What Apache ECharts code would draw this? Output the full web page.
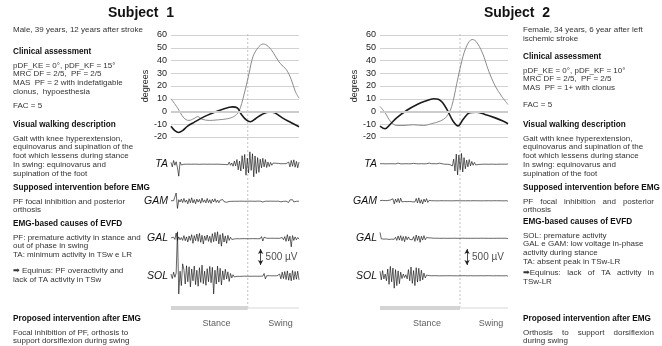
<!DOCTYPE html>
<html>
<head>
<meta charset="utf-8">
<script src="https://cdn.jsdelivr.net/npm/echarts@6/dist/echarts.min.js"></script>
<style>
  html, body { margin: 0; padding: 0; background: #fff; }
  #c { width: 662px; height: 346px; }
</style>
</head>
<body>
<div id="c"></div>
<script>
// ---- Joint angles over the gait cycle (% of cycle, degrees) ----
// Subject 1
const kneePct1 = [0, 5, 10, 14, 18, 21, 24, 30, 37, 44, 49, 53, 57, 61, 64, 68, 72, 76, 80, 85, 90, 94, 97, 100];
const kneeDeg1 = [10, 3, -5, -7, -5.5, -4, -6, -7, -6.5, -5.7, -4, 0, 13, 30, 43, 50, 53, 51, 46, 38, 33, 25, 16, 10.5];
const anklePct1 = [0, 3, 6, 9, 13, 18, 26, 33, 41, 48, 52, 55, 59, 62, 66, 71, 77, 81, 87, 94, 100];
const ankleDeg1 = [-11.5, -15, -16.5, -15, -11.5, -8.5, -4, -1, 2, 3.6, 2.6, -2.3, -6.8, -8, -5.7, -2.3, -0.3, -1, -5, -8.8, -12];
// Subject 2
const kneePct2 = [0, 4, 8, 13, 18, 26, 34, 40, 47, 52, 56, 60, 64, 68, 72, 75, 80, 85, 90, 95, 100];
const kneeDeg2 = [4, -1, -7.5, -11, -11, -10.4, -11, -9.6, -7.5, -4, 4, 22, 40, 52, 56.5, 55, 46, 31.5, 20, 12, 5.5];
const anklePct2 = [0, 4, 8, 13, 21, 29, 35, 42, 46, 49, 53, 57, 61, 65, 70, 75, 82, 90, 96, 100];
const ankleDeg2 = [-11.4, -13.5, -10, -5, 1, 5.5, 8, 10, 9.4, 6.8, 0.3, -7.5, -11.4, -6, -1, -0.5, -2.3, -5, -7.5, -9.6];

// Toe-off (end of stance), % of gait cycle
const toeOff1 = 60;
const toeOff2 = 62.5;

// Angle axis ticks
const angleTicks = [-20, -10, 0, 10, 20, 30, 40, 50, 60];

// ---- Surface EMG, 100 evenly spaced samples over the cycle (µV) ----
const muscles = ['TA', 'GAM', 'GAL', 'SOL'];
const emgTA1 = [
  50,-90,110,-40,70,-120,-380,60,-30,20,
  -8,6,-5,9,-6,4,-7,5,-4,8,
  -6,5,-9,4,-5,7,-4,6,-8,5,
  -5,8,-6,4,-7,10,-5,6,-9,7,
  -12,20,-15,35,-25,60,-40,30,-70,90,
  -60,140,-180,90,-220,260,-150,300,-350,180,
  -280,380,-200,320,-400,250,-300,200,-260,150,
  -120,180,-90,140,-110,60,-80,50,-40,30,
  -15,25,-10,20,-12,8,-15,10,-6,12,
  -30,60,-90,110,-70,130,-100,80,-120,60];
const emgGAM1 = [
  10,-15,8,-12,250,-230,40,-30,60,-50,
  80,-40,30,-90,70,-55,100,-60,45,-85,
  60,-35,50,-70,90,-40,35,-60,80,-50,
  40,-75,55,-30,70,-45,30,-55,25,-35,
  45,-20,30,-40,20,-15,25,-10,15,-8,
  6,-8,5,-7,9,-5,6,-8,4,-6,
  7,-5,8,-6,5,-9,6,-4,7,-5,
  25,-30,8,-6,5,-7,6,-5,8,-6,
  5,-8,6,-5,20,-25,15,-10,8,-6,
  30,-45,35,-20,40,-30,15,-10,8,-6];
const emgGAL1 = [
  20,-15,40,-30,170,-60,50,-40,30,-60,
  90,-70,50,-110,80,-60,120,-150,90,-70,
  140,-90,160,-120,100,-170,80,-60,110,-90,
  70,-130,150,-100,190,-80,210,-170,120,-240,
  160,-110,80,-150,100,-60,40,-30,20,-15,
  8,-6,7,-9,5,-6,8,-5,6,-7,
  5,-8,6,-4,9,-6,5,-7,6,-5,
  60,-80,40,-20,10,-8,6,-5,8,-6,
  7,-5,6,-8,5,-6,30,-40,60,-90,
  120,-80,70,-260,90,-60,50,-40,30,-20];
const emgSOL1 = [
  60,-80,120,-40,90,1380,-560,150,-300,380,
  200,-250,320,-180,290,-340,220,-150,310,-270,
  180,-320,260,-200,340,-240,150,-290,230,-180,
  300,-210,270,-560,180,-250,310,-190,240,-280,
  160,-120,210,-90,130,-170,80,-60,40,-30,
  15,-10,8,-12,6,-9,7,-5,8,-6,
  6,-8,5,-7,9,-6,5,-8,6,-5,
  7,-5,80,-90,10,-6,8,-7,5,-9,
  6,-8,7,-5,60,-90,120,-80,140,-110,
  160,-130,90,-150,170,-120,140,-100,150,-120];

const emgTA2 = [
  8,-6,10,-7,5,-9,6,-5,8,-6,
  7,-9,5,-6,25,-20,6,-8,5,-7,
  9,-5,6,-8,7,-6,20,-25,8,-5,
  6,-7,9,-6,5,-8,7,-5,30,-20,
  8,-6,10,-9,6,-7,25,-30,8,-6,
  -8,10,-6,12,-20,40,-60,150,-220,310,
  -340,280,-180,330,-250,200,-150,120,-90,140,
  -60,80,-40,50,-30,25,-15,20,-10,8,
  -6,9,-5,7,-8,6,-5,8,-7,5,
  -9,6,-5,8,-6,7,-5,9,-6,5];
const emgGAM2 = [
  10,-8,20,-15,12,-25,15,-10,30,-20,
  70,-90,60,-40,80,-55,90,-30,20,-15,
  25,-20,30,-15,20,-25,15,-30,80,-60,
  100,-70,40,-90,60,-30,75,-45,20,-15,
  8,-6,7,-9,5,-8,6,-5,9,-7,
  6,-5,8,-7,5,-9,6,-8,7,-5,
  9,-6,5,-8,7,-5,6,-9,8,-6,
  5,-7,9,-6,8,-5,7,-6,5,-8,
  6,-9,7,-5,8,-6,5,-7,9,-5,
  7,-6,8,-5,6,-9,5,-7,8,-6];
const emgGAL2 = [
  190,-10,15,-20,25,-15,20,-30,25,-20,
  30,-25,40,-60,80,-50,90,-70,60,-100,
  70,-40,50,-30,20,-40,60,-90,110,-60,
  80,-120,70,-50,90,-40,30,-25,20,-15,
  15,-10,8,-6,10,-8,6,-5,7,-5,
  8,-6,5,-9,7,-5,6,-8,9,-6,
  5,-7,8,-6,9,-5,7,-8,6,-5,
  7,-9,5,-6,8,-7,6,-5,9,-6,
  8,-5,7,-9,6,-8,5,-6,7,-5,
  6,-8,9,-5,7,-6,8,-7,5,-9];
const emgSOL2 = [
  150,-120,170,-90,60,-150,220,-260,300,-180,
  250,-380,200,-300,160,-240,120,-80,60,-50,
  40,-90,200,-150,280,-230,170,-300,260,-190,
  240,-160,180,-120,90,-60,30,-20,12,-8,
  7,-5,9,-6,8,-7,5,-9,6,-5,
  8,-6,7,-5,9,-8,6,-5,7,-9,
  5,-8,6,-7,9,-5,8,-6,5,-7,
  9,-6,5,-8,7,-5,6,-9,8,-6,
  6,-7,8,-5,9,-6,7,-8,5,-6,
  8,-5,6,-9,7,-6,5,-8,9,-7];

// Calibration bar height (µV) and gait phases
const scaleBarUV = 500;
const phases = ['Stance', 'Swing'];

// ---- Clinical notes ----
const notes1 = [
  { lines: ['Male, 39 years, 12 years after stroke'] },
  { head: 'Clinical assessment', lines: ['pDF_KE = 0°, pDF_KF = 15°', 'MRC DF = 2/5,  PF = 2/5', 'MAS  PF = 2 with indefatigable', 'clonus,  hypoesthesia'] },
  { lines: ['FAC = 5'] },
  { head: 'Visual walking description', lines: ['Gait with knee hyperextension,', 'equinovarus and supination of the', 'foot which lessens during stance', 'In swing: equinovarus and', 'supination of the foot'] },
  { head: 'Supposed intervention before EMG', lines: ['PF focal inhibition and posterior', 'orthosis'] },
  { head: 'EMG-based causes of EVFD', lines: ['PF: premature activity in stance and', 'out of phase in swing', 'TA: minimum activity in TSw e LR'] },
  { lines: ['\u27A1 Equinus: PF overactivity and', 'lack of TA activity in TSw'] },
  { head: 'Proposed intervention after EMG', lines: ['Focal inhibition of PF, orthosis to', 'support dorsiflexion during swing'] }
];
const notes2 = [
  { lines: ['Female, 34 years, 6 year after left', 'ischemic stroke'] },
  { head: 'Clinical assessment', lines: ['pDF_KE = 0°, pDF_KF = 10°', 'MRC DF = 2/5,  PF = 2/5', 'MAS  PF = 1+ with clonus'] },
  { lines: ['FAC = 5'] },
  { head: 'Visual walking description', lines: ['Gait with knee hyperextension,', 'equinovarus and supination of the', 'foot which lessens during stance', 'In swing: equinovarus and', 'supination of the foot'] },
  { head: 'Supposed intervention before EMG', justify: true, lines: ['PF focal inhibition and posterior', 'orthosis'] },
  { head: 'EMG-based causes of EVFD', lines: ['SOL: premature activity', 'GAL e GAM: low voltage in-phase', 'activity during stance', 'TA: absent peak in TSw-LR'] },
  { justify: true, lines: ['\u27A1Equinus: lack of TA activity in', 'TSw-LR'] },
  { head: 'Proposed intervention after EMG', justify: true, lines: ['Orthosis to support dorsiflexion', 'during swing'] }
];

// ---------------------------------------------------------------
const FONT = '"Liberation Sans", Arial, "DejaVu Sans", sans-serif';
const BODY = 8, HEAD = 8.2, LINE = 8.7, HEAD_GAP = 13.5;

const subjects = [
  { name: 'Subject  1', left: 171, titleX: 141, textX: 13, textW: 145,
    noteTops: [30, 52, 106, 125, 188, 224, 271, 319],
    knee: [kneePct1, kneeDeg1], ankle: [anklePct1, ankleDeg1], toeOff: toeOff1,
    emg: [emgTA1, emgGAM1, emgGAL1, emgSOL1], scaleAt: 70, notes: notes1 },
  { name: 'Subject  2', left: 380, titleX: 517, textX: 523, textW: 131,
    noteTops: [30, 57, 105, 125, 188, 222, 273, 319],
    knee: [kneePct2, kneeDeg2], ankle: [anklePct2, ankleDeg2], toeOff: toeOff2,
    emg: [emgTA2, emgGAM2, emgGAL2, emgSOL2], scaleAt: 68, notes: notes2 }
];

const PLOT_W = 128;
const ANGLE_TOP = 35, ANGLE_H = 102;
const EMG_MID = [164, 201, 238.5, 276];
const EMG_H = 32;              // spans 1000 µV
const SCALE_MID = 257;
const PHASE_Y = 308;

const grids = [], xAxes = [], yAxes = [], series = [], graphics = [];

function addGrid(g, x, y) {
  grids.push(g);
  const idx = grids.length - 1;
  xAxes.push(Object.assign({ gridIndex: idx, type: 'value', min: 0, max: 100, show: false }, x || {}));
  yAxes.push(Object.assign({ gridIndex: idx, type: 'value', show: false }, y || {}));
  return idx;
}

const measureCtx = document.createElement('canvas').getContext('2d');
function textEl(x, y, text, font, fill, align) {
  return { type: 'text', x: x, y: y, silent: true,
    style: { text: text, font: font, fill: fill, textAlign: align || 'left', textVerticalAlign: 'middle' } };
}

subjects.forEach(function (s) {
  // title
  graphics.push(textEl(s.titleX, 13, s.name, 'bold 14px ' + FONT, '#111', 'center'));

  // joint angle plot
  const ga = addGrid({ left: s.left, top: ANGLE_TOP, width: PLOT_W, height: ANGLE_H }, null, {
    show: true, min: angleTicks[0], max: angleTicks[angleTicks.length - 1], interval: 10,
    axisLine: { show: false }, axisTick: { show: false },
    axisLabel: { fontSize: 9, color: '#222', margin: 4, fontFamily: FONT },
    splitLine: { lineStyle: { color: '#d2d2d2', width: 1 } },
    name: 'degrees', nameLocation: 'middle', nameGap: 21, nameRotate: 90,
    nameTextStyle: { fontSize: 9, color: '#222', fontFamily: FONT }
  });
  series.push({
    type: 'line', xAxisIndex: ga, yAxisIndex: ga, smooth: 0.35, symbol: 'none',
    data: s.knee[0].map(function (p, i) { return [p, s.knee[1][i]]; }),
    lineStyle: { color: '#8c8c8c', width: 1 }, z: 3,
    markLine: { silent: true, symbol: 'none', label: { show: false },
      data: [{ yAxis: 0 }], lineStyle: { color: '#cdcdcd', width: 2.2, type: 'solid' } }
  });
  series.push({
    type: 'line', xAxisIndex: ga, yAxisIndex: ga, smooth: 0.35, symbol: 'none',
    data: s.ankle[0].map(function (p, i) { return [p, s.ankle[1][i]]; }),
    lineStyle: { color: '#1c1c1c', width: 1.6 }, z: 4
  });

  // toe-off divider running through all panels
  const gf = addGrid({ left: s.left, top: ANGLE_TOP - 1, width: PLOT_W, height: PHASE_Y - ANGLE_TOP + 1 }, null, { min: 0, max: 1 });
  series.push({
    type: 'line', xAxisIndex: gf, yAxisIndex: gf, symbol: 'none', silent: true,
    data: [[s.toeOff, 0], [s.toeOff, 1]],
    lineStyle: { color: '#b5b5b5', width: 0.8, type: [2, 2] }, z: 1
  });

  // EMG traces
  s.emg.forEach(function (sig, m) {
    const ge = addGrid({ left: s.left, top: EMG_MID[m] - EMG_H / 2, width: PLOT_W, height: EMG_H }, null,
      { min: -scaleBarUV, max: scaleBarUV });
    series.push({
      type: 'line', xAxisIndex: ge, yAxisIndex: ge, symbol: 'none', clip: false,
      data: sig.map(function (v, i) { return [i * 100 / (sig.length - 1), v]; }),
      lineStyle: { color: '#000', width: 0.6 }, z: 5
    });
    graphics.push(textEl(s.left - 3, EMG_MID[m], muscles[m], 'italic 10.5px ' + FONT, '#111', 'right'));
  });

  // calibration bar
  const gs = addGrid({ left: s.left, top: SCALE_MID - EMG_H / 2, width: PLOT_W, height: EMG_H }, null,
    { min: -scaleBarUV, max: scaleBarUV });
  series.push({
    type: 'scatter', xAxisIndex: gs, yAxisIndex: gs, symbolSize: 0, silent: true,
    data: [[s.scaleAt, 0]],
    label: { show: true, position: 'right', distance: 5, formatter: scaleBarUV + ' \u00B5V',
      fontSize: 10, color: '#222', fontFamily: FONT },
    markLine: { silent: true, symbol: ['arrow', 'arrow'], symbolSize: [4, 5], label: { show: false },
      lineStyle: { color: '#222', width: 0.8, type: 'solid' },
      data: [[{ coord: [s.scaleAt, -scaleBarUV / 2] }, { coord: [s.scaleAt, scaleBarUV / 2] }]] }
  });

  // gait phase bar
  const gp = addGrid({ left: s.left, top: PHASE_Y - 5, width: PLOT_W, height: 10 }, null, { min: -1, max: 1 });
  series.push({
    type: 'line', xAxisIndex: gp, yAxisIndex: gp, symbol: 'none', silent: true,
    data: [[0, 0], [s.toeOff, 0]], lineStyle: { color: '#d4d4d4', width: 4 }
  });
  series.push({
    type: 'line', xAxisIndex: gp, yAxisIndex: gp, symbol: 'none', silent: true,
    data: [[s.toeOff, 0], [100, 0]], lineStyle: { color: '#e4e4e4', width: 1.5 }
  });
  series.push({
    type: 'scatter', xAxisIndex: gp, yAxisIndex: gp, symbolSize: 0, silent: true,
    data: [[s.toeOff / 2, 0, phases[0]], [(s.toeOff + 100) / 2, 0, phases[1]]],
    label: { show: true, position: 'bottom', distance: 11, offset: [7, 0],
      formatter: function (p) { return p.value[2]; }, fontSize: 9, color: '#333', fontFamily: FONT }
  });

  // clinical notes
  s.notes.forEach(function (blk, b) {
    let y = s.noteTops[b];
    if (blk.head) {
      graphics.push(textEl(s.textX, y, blk.head, 'bold ' + HEAD + 'px ' + FONT, '#111'));
      y += HEAD_GAP;
    }
    blk.lines.forEach(function (ln, li) {
      const font = BODY + 'px ' + FONT;
      if (blk.justify && li < blk.lines.length - 1) {
        measureCtx.font = font;
        const words = ln.split(' ');
        const widths = words.map(function (w) { return measureCtx.measureText(w).width; });
        const total = widths.reduce(function (a, b) { return a + b; }, 0);
        const gap = (s.textW - total) / (words.length - 1);
        let x = s.textX;
        words.forEach(function (w, wi) {
          graphics.push(textEl(x, y, w, font, '#333'));
          x += widths[wi] + gap;
        });
      } else {
        graphics.push(textEl(s.textX, y, ln, font, '#333'));
      }
      y += LINE;
    });
  });
});

const chart = echarts.init(document.getElementById('c'), null, { renderer: 'canvas' });
chart.setOption({
  animation: false,
  backgroundColor: '#fff',
  grid: grids,
  xAxis: xAxes,
  yAxis: yAxes,
  series: series,
  graphic: graphics
});
</script>
</body>
</html>
